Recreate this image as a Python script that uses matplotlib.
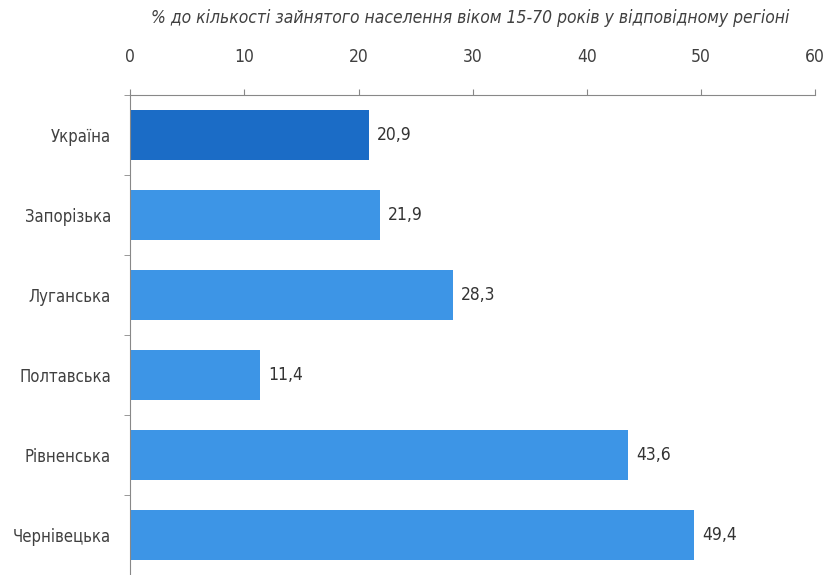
import numpy as np
import matplotlib.pyplot as plt

regions = ['Україна', 'Запорізька', 'Луганська', 'Полтавська', 'Рівненська', 'Чернівецька']
values = [20.9, 21.9, 28.3, 11.4, 43.6, 49.4]
colors = ['#1b6cc6', '#3d95e6', '#3d95e6', '#3d95e6', '#3d95e6', '#3d95e6']
xticks = [0, 10, 20, 30, 40, 50, 60]
title = '% до кількості зайнятого населення віком 15-70 років у відповідному регіоні'

plt.rcParams['font.family'] = ['DejaVu Sans']
plt.rcParams['font.stretch'] = 'condensed'

fig = plt.figure(figsize=(8.3, 5.75), dpi=100)
ax = fig.add_axes([0.157, 0.0, 0.825, 0.835])

y = np.arange(len(regions))
ax.barh(y, values, height=0.62, color=colors)
for yi, v in zip(y, values):
    ax.text(v + 0.7, yi, ('%.1f' % v).replace('.', ','), va='center', ha='left',
            fontsize=12.5, color='#333333')

ax.set_xlim(0, 60)
ax.set_ylim(len(regions) - 0.5, -0.5)
ax.xaxis.tick_top()
ax.set_xticks(xticks)
ax.set_xticklabels([str(t) for t in xticks], fontsize=12.5, color='#404040')
ax.tick_params(axis='x', direction='out', length=4, pad=17, color='#888888')

ax.set_yticks(y)
ax.set_yticklabels(regions, fontsize=12, color='#404040')
ax.set_yticks(np.arange(-0.5, len(regions), 1), minor=True)
ax.tick_params(axis='y', which='major', length=0, pad=14)
ax.tick_params(axis='y', which='minor', direction='out', length=4, color='#888888')

for s in ['right', 'bottom']:
    ax.spines[s].set_visible(False)
ax.spines['top'].set_color('#888888')
ax.spines['left'].set_color('#888888')

fig.text(0.566, 0.968, title, ha='center', va='center', fontsize=12.5,
         style='italic', color='#404040')

plt.savefig('out.png', dpi=100)
